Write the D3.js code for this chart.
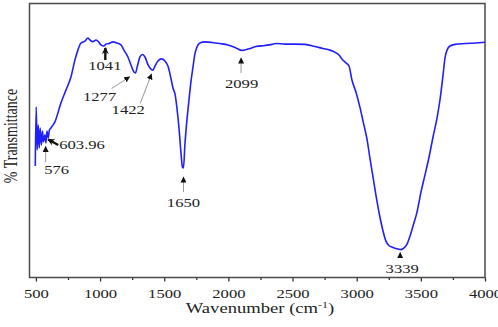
<!DOCTYPE html>
<html>
<head>
<meta charset="utf-8">
<script src="https://cdn.jsdelivr.net/npm/d3@7"></script>
<style>
  body { margin: 0; background: #fff; }
  svg { display: block; }
  text { font-family: "Liberation Serif", "Times New Roman", serif; fill: #222; }
</style>
</head>
<body>
<svg id="chart" width="498" height="327"></svg>
<script>
// spectrum (wavenumber cm-1, % transmittance)
const wavenumber = [495, 502, 510, 518, 526, 533, 543, 551, 558, 570, 578, 586, 596, 605, 617, 648, 695, 734, 773, 804,
  827, 851, 882, 905, 921, 944, 968, 983, 1007, 1030, 1046, 1069, 1100, 1131, 1163, 1186, 1217, 1241, 1264, 1276,
  1291, 1311, 1330, 1350, 1374, 1397, 1412, 1428, 1451, 1478, 1506, 1529, 1552, 1568, 1584, 1599, 1615, 1630, 1642, 1650,
  1661, 1677, 1693, 1708, 1724, 1739, 1755, 1778, 1817, 1872, 1934, 1997, 2059, 2106, 2153, 2215, 2285, 2340, 2371, 2441,
  2519, 2597, 2675, 2737, 2792, 2839, 2862, 2885, 2917, 2940, 2963, 2994, 3025, 3056, 3080, 3103, 3127, 3150, 3181, 3205,
  3228, 3251, 3283, 3322, 3345, 3369, 3392, 3416, 3439, 3470, 3501, 3532, 3564, 3595, 3626, 3649, 3673, 3688, 3704, 3727,
  3766, 3844, 3922, 4000];
const transmittance = [40.5, 62.0, 46.4, 55.5, 47.1, 54.4, 48.2, 53.3, 49.3, 51.8, 48.9, 53.3, 50.7, 53.6, 54.4, 56.6, 63.5, 68.2, 73.0, 79.2,
  82.8, 85.4, 86.1, 87.2, 86.5, 85.9, 86.5, 86.1, 84.7, 84.3, 85.0, 85.2, 85.8, 85.4, 84.7, 82.8, 80.3, 77.4, 74.8, 74.5,
  77.0, 80.3, 81.2, 80.3, 77.4, 75.9, 75.5, 77.0, 78.8, 79.6, 78.8, 77.0, 72.6, 69.0, 66.8, 61.7, 54.4, 45.6, 40.1, 39.8,
  48.2, 57.3, 64.6, 71.2, 76.6, 81.4, 83.9, 85.4, 85.8, 85.6, 85.2, 84.7, 83.6, 82.7, 83.2, 84.1, 84.5, 84.9, 85.2, 85.0,
  85.0, 84.9, 84.1, 83.4, 82.8, 81.8, 81.0, 79.6, 78.1, 77.0, 71.9, 67.5, 62.0, 55.5, 50.4, 43.4, 36.5, 29.9, 21.9, 16.8,
  13.1, 11.5, 10.8, 10.2, 10.0, 10.6, 12.0, 15.0, 18.6, 23.7, 31.0, 37.2, 43.8, 51.1, 58.0, 64.6, 73.7, 79.9, 82.8, 84.3,
  84.9, 85.2, 85.4, 85.7];

const xTicks = [500, 1000, 1500, 2000, 2500, 3000, 3500, 4000];
const xMinorTicks = [750, 1250, 1750, 2250, 2750, 3250, 3750];

const peakWavenumbers = [576, 603.96, 1041, 1277, 1422, 1650, 2099, 3339];
const peakLabels = ["576", "603.96", "1041", "1277", "1422", "1650", "2099", "3339"];

const svg = d3.select("#chart");
const plotLeft = 29.5, plotRight = 485, plotTop = 3.5, plotBottom = 277.5;
const stretch = "scale(1.33,1)";

const xScale = d3.scaleLinear().domain([450, 4000]).range([plotLeft, plotRight]);
const yScale = d3.scaleLinear().domain([0, 100]).range([277, 3]);

// arrow heads
const defs = svg.append("defs");
defs.append("marker")
  .attr("id", "head").attr("markerUnits", "userSpaceOnUse")
  .attr("viewBox", "0 0 6 6").attr("refX", 6).attr("refY", 3)
  .attr("markerWidth", 6).attr("markerHeight", 6).attr("orient", "auto")
  .append("path").attr("d", "M0,0L6,3L0,6z").attr("fill", "#111");
defs.append("marker")
  .attr("id", "headBold").attr("markerUnits", "userSpaceOnUse")
  .attr("viewBox", "0 0 8 8").attr("refX", 6).attr("refY", 4)
  .attr("markerWidth", 8).attr("markerHeight", 8).attr("orient", "auto")
  .append("path").attr("d", "M0,0.5L7,4L0,7.5L2,4z").attr("fill", "#111");

// bottom axis, major + minor ticks
const xAxis = svg.append("g")
  .attr("transform", `translate(0, ${plotBottom})`)
  .call(d3.axisBottom(xScale).tickValues(xTicks).tickFormat(d3.format("d"))
    .tickSize(4).tickSizeOuter(0));
xAxis.select(".domain").remove();
xAxis.selectAll(".tick line").attr("stroke", "#333").attr("stroke-width", 1.3);
xAxis.selectAll(".tick text")
  .attr("y", 0).attr("dy", 0)
  .attr("transform", `translate(0, 20) ${stretch}`)
  .style("font-size", "12.5px")
  .style("font-family", "'Liberation Serif', serif")
  .attr("fill", "#222");

svg.append("g")
  .attr("transform", `translate(0, ${plotBottom})`)
  .call(d3.axisBottom(xScale).tickValues(xMinorTicks).tickSize(2.5).tickFormat(""))
  .call(g => g.select(".domain").remove())
  .selectAll("line").attr("stroke", "#333").attr("stroke-width", 1.3);

// frame
svg.append("rect")
  .attr("x", plotLeft).attr("y", plotTop)
  .attr("width", plotRight - plotLeft).attr("height", plotBottom - plotTop)
  .attr("fill", "none").attr("stroke", "#4a4a4a").attr("stroke-width", 1.5);

// spectrum
const points = wavenumber.map((w, i) => [w, transmittance[i]]);
svg.append("path")
  .datum(points)
  .attr("fill", "none")
  .attr("stroke", "#1f1fff")
  .attr("stroke-width", 1.6)
  .attr("stroke-linejoin", "round")
  .attr("d", d3.line().x(d => xScale(d[0])).y(d => yScale(d[1])).curve(d3.curveMonotoneX));

// peak annotations (offsets in px relative to the peak's x)
const annotLayout = [
  { tail: [0, 162], tip: [0, 146], label: [11, 174], anchor: "middle", bold: false },
  { tail: [9, 145], tip: [-1, 139.5], label: [10, 149], anchor: "start", bold: true },
  { tail: [0, 60], tip: [0, 48], label: [-0.5, 70], anchor: "middle", bold: true },
  { tail: [-24, 88.5], tip: [-5.5, 76.5], label: [-36, 101], anchor: "middle", bold: false },
  { tail: [-14, 103.5], tip: [-2.5, 73.5], label: [-26, 113.5], anchor: "middle", bold: false },
  { tail: [0, 192], tip: [0, 176.5], label: [0, 207], anchor: "middle", bold: false },
  { tail: [0, 73], tip: [0, 57.5], label: [0.5, 88], anchor: "middle", bold: false },
  { tail: [0, 258], tip: [0, 252], label: [2, 273], anchor: "middle", bold: false }
];

const annots = svg.append("g");
peakWavenumbers.forEach((w, i) => {
  const a = annotLayout[i];
  const x0 = xScale(w);
  annots.append("line")
    .attr("x1", x0 + a.tail[0]).attr("y1", a.tail[1])
    .attr("x2", x0 + a.tip[0]).attr("y2", a.tip[1])
    .attr("stroke", a.bold ? "#111" : "#999")
    .attr("stroke-width", a.bold ? 2.4 : 1)
    .attr("marker-end", a.bold ? "url(#headBold)" : "url(#head)");
  annots.append("text")
    .attr("transform", `translate(${x0 + a.label[0]}, ${a.label[1]}) ${stretch}`)
    .attr("text-anchor", a.anchor)
    .style("font-size", "12.5px")
    .text(peakLabels[i]);
});

// axis titles
const xTitle = svg.append("text")
  .attr("transform", `translate(260, 313) ${stretch}`)
  .attr("text-anchor", "middle")
  .style("font-size", "14px");
xTitle.append("tspan").text("Wavenumber (cm");
xTitle.append("tspan").attr("dy", -5).style("font-size", "9px").text("-1");
xTitle.append("tspan").attr("dy", 5).text(")");

svg.append("text")
  .attr("transform", "translate(17, 136) rotate(-90) scale(1,1.33)")
  .attr("text-anchor", "middle")
  .style("font-size", "14px")
  .text("% Transmittance");
</script>
</body>
</html>
